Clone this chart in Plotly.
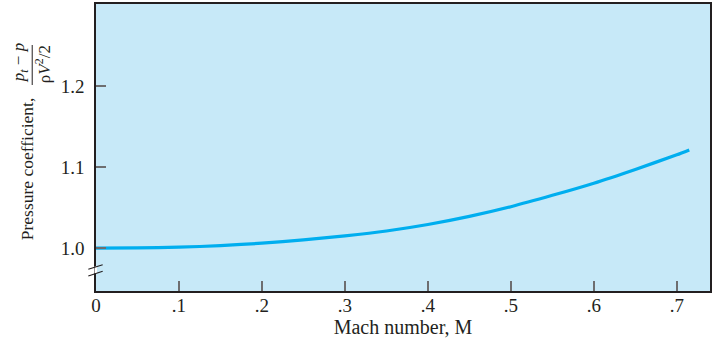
import plotly.graph_objects as go

# Data
mach = [0.0, 0.05, 0.1, 0.15, 0.2, 0.25, 0.3, 0.35, 0.4, 0.45, 0.5, 0.55, 0.6, 0.65, 0.7, 0.715]
coef = [1.000, 1.0003, 1.001, 1.003, 1.006, 1.010, 1.015, 1.021, 1.029, 1.039, 1.051, 1.065, 1.080, 1.097, 1.115, 1.121]

x_ticks = [0, 0.1, 0.2, 0.3, 0.4, 0.5, 0.6, 0.7]
x_labels = ["0", ".1", ".2", ".3", ".4", ".5", ".6", ".7"]
y_ticks = [1.0, 1.1, 1.2]
y_labels = ["1.0", "1.1", "1.2"]

W, H = 713, 347
ML, MT, MR, MB = 96, 4, 1, 56
PW, PH = W - ML - MR, H - MT - MB

def px(xp):
    return (xp - ML) / PW

def py(yp):
    return (H - MB - yp) / PH

FONT = "Liberation Serif, Times New Roman, serif"
TXT = "#231F20"

fig = go.Figure()
fig.add_trace(go.Scatter(
    x=mach, y=coef, mode="lines",
    line=dict(color="#00AEEF", width=3.2, shape="spline", smoothing=0.6),
    hoverinfo="skip", showlegend=False,
))

axis_common = dict(
    showgrid=False, zeroline=False, showline=True, linecolor="#231F20", linewidth=1.5,
    mirror=True, ticks="inside", ticklen=10, tickwidth=1.5, tickcolor="#6d6e70",
    tickfont=dict(family=FONT, size=19, color=TXT),
)

fig.update_layout(
    width=W, height=H,
    margin=dict(l=ML, r=MR, t=MT, b=MB),
    paper_bgcolor="white", plot_bgcolor="#C7E9F8",
    xaxis=dict(range=[0, 0.740], tickvals=x_ticks, ticktext=x_labels,
               ticklabelstandoff=-4,
               title=dict(text="Mach number, M", font=dict(family=FONT, size=20, color=TXT), standoff=4),
               **axis_common),
    yaxis=dict(range=[0.947, 1.301], tickvals=y_ticks, ticktext=y_labels,
               ticklabelstandoff=6, **axis_common),
)

# Y-axis title with fraction, built from rotated annotations
fig.add_annotation(text="Pressure coefficient,", textangle=-90, showarrow=False,
                   xref="paper", yref="paper", x=px(27), y=py(169),
                   xanchor="center", yanchor="middle",
                   font=dict(family=FONT, size=17.5, color=TXT))
fig.add_annotation(text="<i>p</i><sub><i>t</i></sub> − <i>p</i>", textangle=-90, showarrow=False,
                   xref="paper", yref="paper", x=px(20), y=py(63),
                   xanchor="center", yanchor="middle",
                   font=dict(family=FONT, size=17, color=TXT))
fig.add_annotation(text="ρ<i>V</i><sup>2</sup>/2", textangle=-90, showarrow=False,
                   xref="paper", yref="paper", x=px(43), y=py(64),
                   xanchor="center", yanchor="middle",
                   font=dict(family=FONT, size=17, color=TXT))
fig.add_shape(type="line", xref="paper", yref="paper",
              x0=px(32), x1=px(32), y0=py(45), y1=py(85),
              line=dict(color=TXT, width=1))

# Axis break marks
fig.add_shape(type="line", xref="paper", yref="paper",
              x0=px(96), x1=px(96), y0=py(266.5), y1=py(273.5),
              line=dict(color="white", width=3))
fig.add_shape(type="rect", xref="paper", yref="paper",
              x0=px(97), x1=px(98.5), y0=py(266.5), y1=py(273.5),
              line=dict(width=0), fillcolor="#C7E9F8")
for y0, y1 in [(269.3, 264.7), (276.0, 271.3)]:
    fig.add_shape(type="line", xref="paper", yref="paper",
                  x0=px(88.3), x1=px(102.7), y0=py(y0), y1=py(y1),
                  line=dict(color=TXT, width=1.2))

fig.write_html("out.html", config={"displayModeBar": False},
               post_script="document.body.style.margin='0px';")
